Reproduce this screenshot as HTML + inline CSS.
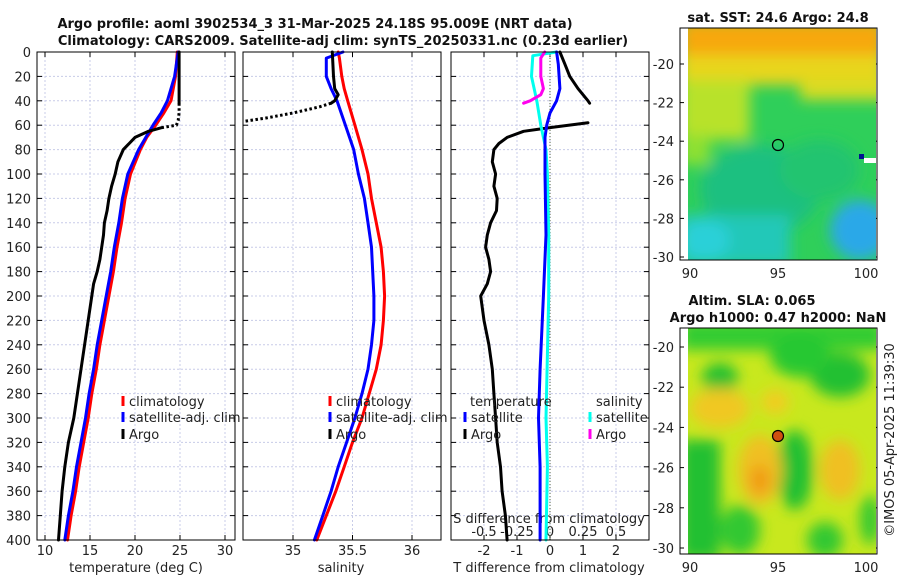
<!DOCTYPE html>
<html><head><meta charset="utf-8"><style>
body{margin:0;background:#fff}
svg{display:block;font-family:"DejaVu Sans","Liberation Sans",sans-serif}
.t{font-size:13px;fill:#222}
.b{font-size:13px;font-weight:bold;fill:#111}
</style></head><body>
<svg id="c" width="900" height="580" viewBox="0 0 900 580">
<defs>
<filter id="bl" x="-20%" y="-20%" width="140%" height="140%"><feGaussianBlur stdDeviation="7"/></filter>
<clipPath id="cm1"><rect x="688" y="28" width="188" height="232"/></clipPath>
<clipPath id="cm2"><rect x="688" y="328" width="188" height="226"/></clipPath>
</defs>
<text class="b" x="315" y="28" text-anchor="middle">Argo profile: aoml 3902534_3 31-Mar-2025 24.18S 95.009E (NRT data)</text>
<text class="b" x="343" y="45" text-anchor="middle">Climatology: CARS2009. Satellite-adj clim: synTS_20250331.nc (0.23d earlier)</text>
<g id="plots"></g>
<g>
<text class="b" x="778" y="22" text-anchor="middle">sat. SST: 24.6 Argo: 24.8</text>
<g clip-path="url(#cm1)">
<rect x="688" y="28" width="188" height="232" fill="#2fcf5a"/>
<g filter="url(#bl)">
<rect x="680" y="20" width="205" height="45" fill="#f7a810"/>
<rect x="680" y="55" width="205" height="30" fill="#e8d61a"/>
<rect x="680" y="80" width="70" height="60" fill="#b8e22a"/>
<rect x="680" y="135" width="30" height="30" fill="#8ee030"/>
<rect x="800" y="80" width="90" height="20" fill="#d8dc20"/>
<ellipse cx="760" cy="190" rx="60" ry="45" fill="#1cc080"/>
<ellipse cx="820" cy="170" rx="40" ry="30" fill="#22c470"/>
<rect x="680" y="215" width="110" height="50" fill="#24c8b8"/>
<ellipse cx="705" cy="240" rx="25" ry="20" fill="#2ad0d8"/>
<ellipse cx="860" cy="230" rx="30" ry="30" fill="#2aa8e8"/>
</g>
<rect x="859" y="154" width="5" height="5" fill="#001090"/>
<rect x="864" y="158" width="12" height="5" fill="#fff"/>
</g>
<circle cx="778" cy="145" r="5.5" fill="none" stroke="#000" stroke-width="1.2"/>
<rect x="680" y="28" width="197" height="232" fill="none" stroke="#000" stroke-width="1"/>
</g>
<g>
<text class="b" x="752" y="305" text-anchor="middle">Altim. SLA: 0.065</text>
<text class="b" x="778" y="322" text-anchor="middle">Argo h1000: 0.47 h2000: NaN</text>
<g clip-path="url(#cm2)">
<rect x="688" y="328" width="188" height="226" fill="#c8e81e"/>
<g filter="url(#bl)">
<rect x="680" y="320" width="205" height="30" fill="#30cc30"/>
<ellipse cx="720" cy="378" rx="18" ry="15" fill="#22c030"/>
<ellipse cx="840" cy="375" rx="30" ry="22" fill="#22c030"/>
<ellipse cx="800" cy="355" rx="30" ry="22" fill="#28c830"/>
<ellipse cx="720" cy="408" rx="30" ry="20" fill="#f0c820"/>
<ellipse cx="775" cy="402" rx="14" ry="12" fill="#f2cc20"/>
<rect x="680" y="440" width="40" height="120" fill="#22c030"/>
<ellipse cx="795" cy="470" rx="18" ry="40" fill="#22c030"/>
<ellipse cx="760" cy="470" rx="22" ry="35" fill="#f0c020"/>
<ellipse cx="760" cy="480" rx="10" ry="15" fill="#f09a18"/>
<ellipse cx="840" cy="470" rx="20" ry="30" fill="#f0c020"/>
<ellipse cx="825" cy="540" rx="18" ry="18" fill="#30c830"/>
<ellipse cx="870" cy="520" rx="10" ry="25" fill="#30c830"/>
<ellipse cx="740" cy="530" rx="20" ry="25" fill="#30c830"/>
</g>
</g>
<circle cx="778" cy="436" r="5.5" fill="#d05010" stroke="#000" stroke-width="1.2"/>
<rect x="680" y="328" width="197" height="226" fill="none" stroke="#000" stroke-width="1"/>
</g>
<text class="t" transform="translate(894,440) rotate(-90)" text-anchor="middle">©IMOS 05-Apr-2025 11:39:30</text>
</svg>
<script>
const depthTicks=[0,20,40,60,80,100,120,140,160,180,200,220,240,260,280,300,320,340,360,380,400];
const tTicks=[10,15,20,25,30];
const sTicks=[35,35.5,36];
const sTickLabels=["35","35.5","36"];
const dTTicks=[-2,-1,0,1,2];
const dTTickLabels=["-2","-1","0","1","2"];
const dSTicks=[-0.5,-0.25,0,0.25,0.5];
const dSTickLabels=["-0.5","-0.25","0","0.25","0.5"];
const zDepth=[0,20,40,50,60,70,80,100,120,140,160,180,200,220,240,260,280,300,320,340,360,380,400];
const climT=[24.7,24.5,24.0,23.2,22.3,21.3,20.6,19.5,18.9,18.5,18.0,17.6,17.1,16.6,16.1,15.7,15.2,14.8,14.3,13.8,13.4,12.9,12.5];
const satT=[24.8,24.4,23.6,22.9,22.0,21.2,20.4,19.2,18.6,18.2,17.7,17.3,16.8,16.3,15.8,15.4,14.9,14.5,14.0,13.5,13.1,12.6,12.2];
const argoTDepthA=[0,20,42];
const argoTA=[24.9,24.9,24.9];
const argoTDepthBad=[42,50,56,60,62];
const argoTBad=[24.9,24.9,24.8,24.6,23.0];
const argoTDepthB=[62,65,70,80,90,100,110,120,130,140,150,160,170,180,190,200,220,240,260,280,300,320,340,360,380,400];
const argoTB=[23.0,21.5,20.0,18.7,18.1,17.8,17.4,17.1,16.9,16.6,16.5,16.3,16.1,15.8,15.4,15.2,14.8,14.4,14.0,13.6,13.2,12.6,12.2,11.9,11.7,11.5];
const sDepth=[0,5,20,30,40,60,80,100,120,140,160,180,200,220,240,260,280,300,320,340,360,380,400];
const climS=[35.38,35.39,35.41,35.43,35.46,35.52,35.58,35.63,35.66,35.70,35.74,35.76,35.77,35.76,35.74,35.70,35.64,35.58,35.50,35.43,35.36,35.28,35.20];
const satS=[35.42,35.28,35.28,35.32,35.37,35.44,35.51,35.55,35.60,35.63,35.66,35.67,35.68,35.68,35.66,35.63,35.58,35.52,35.45,35.38,35.32,35.25,35.18];
const argoSDepth=[0,20,30,35,40,42];
const argoS=[35.33,35.34,35.35,35.38,35.35,35.32];
const argoSDepthBad=[42,45,50,54,57];
const argoSBad=[35.32,35.22,35.0,34.78,34.58];
const dTDepthA=[0,10,20,30,40,42];
const argoDTA=[0.3,0.45,0.6,0.85,1.15,1.2];
const dTDepthB=[58,62,65,70,75,80,90,100,110,120,130,140,150,160,170,180,190,200,220,240,260,280,300,320,340,360,380,400];
const argoDTB=[1.15,0,-0.8,-1.3,-1.55,-1.7,-1.75,-1.65,-1.7,-1.6,-1.62,-1.8,-1.9,-1.95,-1.85,-1.8,-1.9,-2.1,-2.0,-1.85,-1.75,-1.7,-1.65,-1.6,-1.5,-1.45,-1.35,-1.3];
const satDTDepth=[0,10,30,40,50,60,70,100,150,200,260,300,340,400];
const satDT=[0.2,0.25,0.3,0.2,0.0,-0.1,-0.15,-0.15,-0.12,-0.2,-0.3,-0.35,-0.3,-0.3];
const satDSDepth=[0,3,20,40,60,80,100,150,200,300,340,400];
const satDS=[0.05,-0.13,-0.14,-0.1,-0.07,-0.03,-0.02,-0.01,-0.01,-0.03,-0.02,-0.03];
const argoDSDepth=[0,5,20,30,35,40,42];
const argoDS=[-0.04,-0.07,-0.07,-0.05,-0.07,-0.15,-0.2];

const NS='http://www.w3.org/2000/svg';
const G=document.getElementById('plots');
const yD=d=>52+d*1.22;
const xT=t=>45+(t-10)*9;
const xS=s=>293+(s-35)*119;
const xDT=t=>550+33*t;
const xDS=s=>550+132*s;
function mk(tag,at,par){const e=document.createElementNS(NS,tag);for(const k in at)e.setAttribute(k,at[k]);(par||G).appendChild(e);return e;}
function txt(x,y,s,anchor){const e=mk('text',{x:x,y:y,class:'t','text-anchor':anchor||'middle'});e.textContent=s;return e;}
const panels=[[37,235],[243,441],[451,649]];
panels.forEach((p,i)=>{
  const g=mk('g',{});
  
  
  depthTicks.forEach(d=>{
    mk('line',{x1:p[0],x2:p[1],y1:yD(d),y2:yD(d),stroke:'#c8cce8','stroke-dasharray':'2,2','stroke-width':1},g);
    mk('line',{x1:p[0],x2:p[0]+5,y1:yD(d),y2:yD(d),stroke:'#000'},g);
    mk('line',{x1:p[1]-5,x2:p[1],y1:yD(d),y2:yD(d),stroke:'#000'},g);
  });
});
function vgrid(i,vals,fx){vals.forEach(v=>{const x=fx(v);mk('line',{x1:x,x2:x,y1:52,y2:540,stroke:'#c8cce8','stroke-dasharray':'2,2'});mk('line',{x1:x,x2:x,y1:535,y2:540,stroke:'#000'});mk('line',{x1:x,x2:x,y1:52,y2:57,stroke:'#000'});});}
vgrid(0,tTicks,xT);vgrid(1,sTicks,xS);vgrid(2,dTTicks,xDT);
depthTicks.forEach(d=>{const e=txt(31,yD(d)+5,String(d),'end');});
tTicks.forEach(t=>{const e=txt(xT(t),555,String(t));});
sTicks.forEach((s,i)=>{const e=txt(xS(s),555,sTickLabels[i]);});
dTTicks.forEach((s,i)=>{const e=txt(xDT(s),555,dTTickLabels[i]);});
dSTicks.forEach((s,i)=>{const e=txt(xDS(s),536,dSTickLabels[i]);});
let e;
e=txt(136,572,'temperature (deg C)');
e=txt(341,572,'salinity');
e=txt(549,572,'T difference from climatology');
e=txt(549,523,'S difference from climatology');
e=mk('line',{x1:550,x2:550,y1:52,y2:540,stroke:'#556644','stroke-dasharray':'1,2'});


function line(ds,vs,fx,col,name,dash){
  const pts=ds.map((d,i)=>fx(vs[i]).toFixed(1)+','+yD(d).toFixed(1)).join(' ');
  const a={points:pts,fill:'none',stroke:col,'stroke-width':3,'stroke-linejoin':'round','stroke-linecap':dash?'butt':'round'};
  if(dash)a['stroke-dasharray']='2.5,2.5';
  const el=mk('polyline',a);
  
  
}
line(zDepth,climT,xT,'#f00','temp-climatology-line');
line(zDepth,satT,xT,'#00f','temp-satellite-line');
line(argoTDepthA,argoTA,xT,'#000','temp-argo-line');
line(argoTDepthBad,argoTBad,xT,'#000','temp-argo-flagged-line',true);
line(argoTDepthB,argoTB,xT,'#000','temp-argo-deep-line');
line(sDepth,climS,xS,'#f00','sal-climatology-line');
line(sDepth,satS,xS,'#00f','sal-satellite-line');
line(argoSDepth,argoS,xS,'#000','sal-argo-line');
line(argoSDepthBad,argoSBad,xS,'#000','sal-argo-flagged-line',true);
line(dTDepthA,argoDTA,xDT,'#000','dt-argo-line');
line(dTDepthB,argoDTB,xDT,'#000','dt-argo-deep-line');
line(satDSDepth,satDS,xDS,'#00ffee','ds-satellite-line');
line(satDTDepth,satDT,xDT,'#00f','dt-satellite-line');
line(argoDSDepth,argoDS,xDS,'#ff00ee','ds-argo-line');
panels.forEach((p,i)=>{const r=mk('rect',{x:p[0],y:52,width:p[1]-p[0],height:488,fill:'none',stroke:'#000'});});
function leg(x,y,col,label,name){
  const g=mk('g',{});
  
  
  mk('line',{x1:x,x2:x,y1:y-10,y2:y,stroke:col,'stroke-width':3},g);
  const t=mk('text',{x:x+6,y:y,class:'t'},g);t.textContent=label;
}
leg(123,406,'#f00','climatology','legend-climatology-temp');
leg(123,422,'#00f','satellite-adj. clim','legend-satellite-temp');
leg(123,439,'#000','Argo','legend-argo-temp');
leg(330,406,'#f00','climatology','legend-climatology-sal');
leg(330,422,'#00f','satellite-adj. clim','legend-satellite-sal');
leg(330,439,'#000','Argo','legend-argo-sal');
e=txt(470,406,'temperature','start');
e=txt(596,406,'salinity','start');
leg(465,422,'#00f','satellite','legend-dt-satellite');
leg(465,439,'#000','Argo','legend-dt-argo');
leg(590,422,'#00ffee','satellite','legend-ds-satellite');
leg(590,439,'#ff00ee','Argo','legend-ds-argo');
const mapLatTicks=[-20,-22,-24,-26,-28,-30];
const mapLonTicks=[90,95,100];
const lonX=l=>690+(l-90)*17.6;
const lat1=l=>64+(-20-l)*19.3;
const lat2=l=>347+(-20-l)*20.1;
[[lat1,28,260,274],[lat2,328,554,568]].forEach(([fy,top,bot,ly])=>{
  mapLatTicks.forEach(l=>{const y=fy(l);mk('line',{x1:680,x2:684,y1:y,y2:y,stroke:'#000'});mk('line',{x1:873,x2:877,y1:y,y2:y,stroke:'#000'});const t=txt(674,y+5,String(l),'end');});
  mapLonTicks.forEach(l=>{const x=lonX(l);mk('line',{x1:x,x2:x,y1:bot-4,y2:bot,stroke:'#000'});const t=txt(x,ly+4,String(l));});
});
</script>
</body></html>
